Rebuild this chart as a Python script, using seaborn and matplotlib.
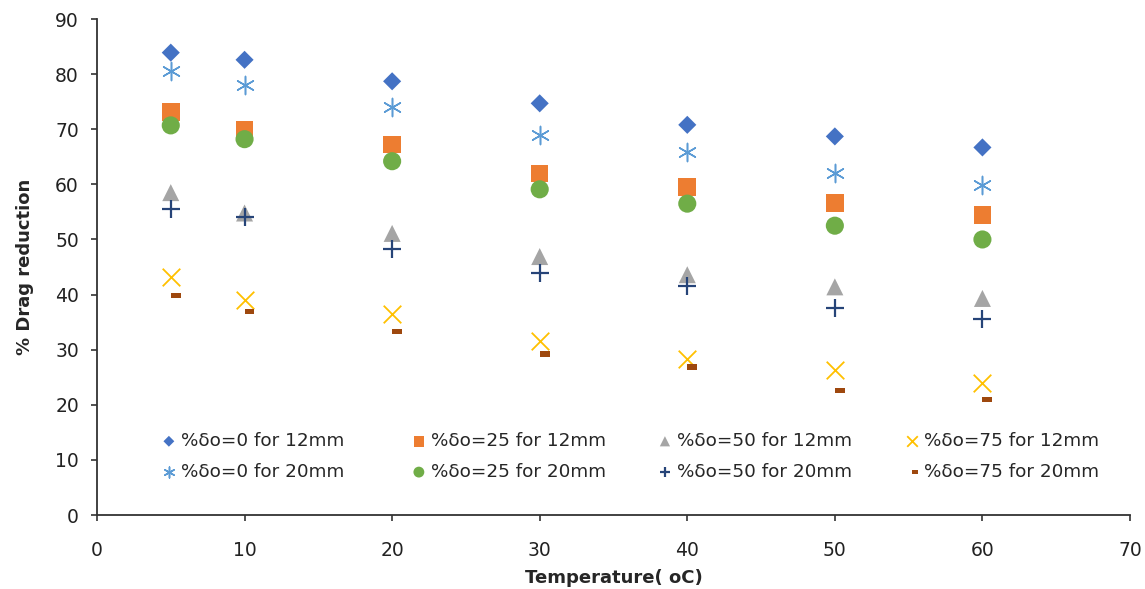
import matplotlib
matplotlib.use("Agg")
import matplotlib.pyplot as plt
import numpy as np
import pandas as pd
import seaborn as sns
from matplotlib.path import Path
from matplotlib.markers import MarkerStyle

# data
temperature = [5, 10, 20, 30, 40, 50, 60]

dr_0_12 = [83.9, 82.6, 78.7, 74.7, 70.8, 68.7, 66.7]
dr_25_12 = [73.1, 69.9, 67.2, 62.0, 59.5, 56.6, 54.4]
dr_50_12 = [58.5, 54.8, 51.1, 46.9, 43.6, 41.4, 39.3]
dr_75_12 = [43.1, 39.1, 36.5, 31.5, 28.3, 26.4, 23.9]
dr_0_20 = [80.6, 78.0, 74.1, 69.0, 65.9, 62.0, 59.9]
dr_25_20 = [70.7, 68.2, 64.2, 59.1, 56.5, 52.5, 50.0]
dr_50_20 = [55.6, 54.1, 48.3, 44.0, 41.6, 37.5, 35.5]
dr_75_20 = [39.8, 36.9, 33.3, 29.2, 26.9, 22.6, 21.0]

labels = ["%δo=0 for 12mm", "%δo=0 for 20mm",
          "%δo=25 for 12mm", "%δo=25 for 20mm",
          "%δo=50 for 12mm", "%δo=50 for 20mm",
          "%δo=75 for 12mm", "%δo=75 for 20mm"]
series = [dr_0_12, dr_0_20, dr_25_12, dr_25_20,
          dr_50_12, dr_50_20, dr_75_12, dr_75_20]

# excel-like dash marker (drawn to the right of the point)
dash = MarkerStyle(Path([(0, -0.28), (1, -0.28), (1, 0.28), (0, 0.28), (0, -0.28)],
                        [Path.MOVETO, Path.LINETO, Path.LINETO, Path.LINETO, Path.CLOSEPOLY]))

styles = [
    dict(marker="D", color="#4472C4", s=85, filled=True),
    dict(marker=(6, 2, 0), color="#5B9BD5", s=170, filled=False, lw=1.1),
    dict(marker="s", color="#ED7D31", s=160, filled=True),
    dict(marker="o", color="#70AD47", s=170, filled=True),
    dict(marker="^", color="#A5A5A5", s=150, filled=True),
    dict(marker="+", color="#264478", s=170, filled=False, lw=1.6),
    dict(marker="x", color="#FFC000", s=160, filled=False, lw=1.3),
    dict(marker=dash, color="#9E480E", s=200, filled=True),
]

sns.set_style("white")
plt.rcParams['font.family'] = ['DejaVu Sans']

fig, ax = plt.subplots(figsize=(11.45, 5.89), dpi=100)
fig.subplots_adjust(left=0.0847, right=0.9869, top=0.9677, bottom=0.1256)

for lab, vals, st in zip(labels, series, styles):
    df = pd.DataFrame({"T": temperature, "DR": vals})
    if st["filled"]:
        sns.scatterplot(data=df, x="T", y="DR", ax=ax, marker=st["marker"],
                        color=st["color"], s=st["s"], edgecolor="none",
                        linewidth=0, label=lab, legend=False)
    else:
        sns.scatterplot(data=df, x="T", y="DR", ax=ax, marker=st["marker"],
                        color=st["color"], edgecolor=st["color"], s=st["s"],
                        linewidth=st["lw"], label=lab, legend=False)

ax.set_xlim(0, 70)
ax.set_ylim(0, 90)
ax.set_xticks(np.arange(0, 71, 10))
ax.set_yticks(np.arange(0, 91, 10))
ax.set_xlabel("Temperature( oC)", fontsize=13, fontweight="bold", labelpad=6)
ax.set_ylabel("% Drag reduction", fontsize=13, fontweight="bold", labelpad=15)

for side in ["top", "right"]:
    ax.spines[side].set_visible(False)
for side in ["left", "bottom"]:
    ax.spines[side].set_color("#333333")
    ax.spines[side].set_linewidth(1.3)
ax.tick_params(axis="both", direction="out", length=4, width=1.2,
               color="#333333", labelsize=13.5, labelcolor="#222222",
               left=True, bottom=True)
ax.tick_params(axis="y", pad=9)
ax.tick_params(axis="x", pad=15)

# legend: one small legend per column so the columns sit where Excel put them
handles, labs = ax.get_legend_handles_labels()
col_left = [0.0625, 0.3045, 0.5427, 0.7818]
for i, x0 in enumerate(col_left):
    leg = ax.legend(handles[2 * i:2 * i + 2], labs[2 * i:2 * i + 2],
                    frameon=False, loc="center left",
                    bbox_to_anchor=(x0, 0.118), borderaxespad=0, borderpad=0,
                    handlelength=0.8, handletextpad=0.25,
                    labelspacing=0.7, markerscale=0.6, fontsize=13.2)
    if i < len(col_left) - 1:
        ax.add_artist(leg)

fig.savefig("out.png", dpi=100)
